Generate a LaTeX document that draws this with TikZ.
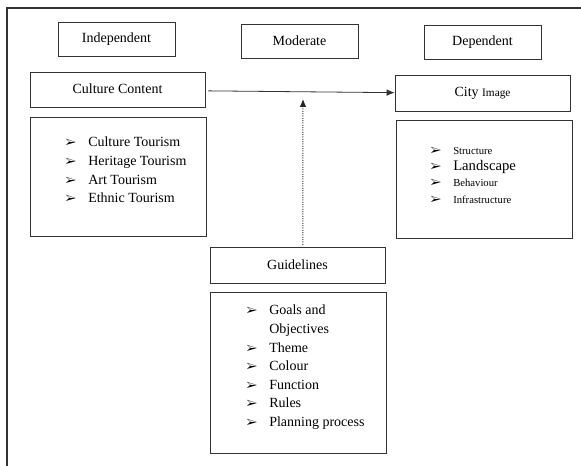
\documentclass[tikz,border=0pt]{standalone}
\usepackage{fontspec}
\setmainfont{Liberation Serif}
\usepackage{pifont}
\usetikzlibrary{arrows.meta}
\tikzstyle{box}=[draw=black!80,line width=0.6pt,rectangle,inner sep=0pt]
\tikzstyle{headbox}=[box,minimum width=87.75pt,minimum height=25.5pt]
\tikzstyle{titlebox}=[box,minimum width=131.25pt,minimum height=26.5pt]
\tikzstyle{listbox}=[box,minimum width=132pt]
\tikzstyle{list}=[anchor=north west,align=left,inner sep=0pt]
\newcommand{\itm}{\makebox[17.25pt][l]{\fontsize{9}{9}\selectfont\ding{226}}}

\begin{document}
\begin{tikzpicture}[x=0.75pt,y=-0.75pt,>={Latex[length=6pt,width=5pt]},font=\fontsize{10.5}{13.9}\selectfont]
	\useasboundingbox (0,0) rectangle (581,466);
	\draw[black!80,line width=0.9pt] (7,466) -- (7,8) -- (581,8);

	% column heads
	\draw node [headbox] at (116.5,39) (indep) {\raisebox{1.5pt}{Independent}};
	\draw node [headbox] at (299.5,41) (moder) {\raisebox{1pt}{Moderate}};
	\draw node [headbox] at (482.5,42.5) (dep) {\raisebox{1pt}{Dependent}};

	% independent side
	\draw node [titlebox] at (117.5,90) (cc) {\raisebox{2pt}{Culture Content}};
	\draw node [listbox,minimum height=89.25pt] at (118,176.5) (ccl) {};
	\draw node [list] at (65,137) (ccitems) {\itm Culture Tourism\\ \itm Heritage Tourism\\ \itm Art Tourism\\ \itm Ethnic Tourism};

	% dependent side
	\draw node [titlebox] at (482.5,93.5) (ci) {\raisebox{2pt}{City {\fontsize{8.5}{10}\selectfont Image}}};
	\draw node [listbox,minimum height=88.5pt] at (484,179) (cil) {};
	\draw node [list,font=\fontsize{8}{12.2}\selectfont] at (430,147) (ciitems) {\itm Structure\\ \itm{\fontsize{11}{12.2}\selectfont Landscape}\\ \itm Behaviour\\ \itm Infrastructure};

	% moderating side
	\draw node [titlebox] at (297.5,265.5) (gl) {\raisebox{1.5pt}{Guidelines}};
	\draw node [listbox,minimum height=120.75pt] at (298,372.5) (gll) {};
	\draw node [list] at (246,305) (glitems) {\itm Goals and\\ \makebox[17.25pt]{}Objectives\\ \itm Theme\\ \itm Colour\\ \itm Function\\ \itm Rules\\ \itm Planning process};

	\coordinate (tip) at (303,99);

	\path
	(cc) edge[->,draw=black!80,line width=0.6pt,shorten <=2.25pt] (ci)
	([xshift=4pt,yshift=2pt]gl.north) edge[->,draw=black!85,line width=0.75pt,densely dotted] (tip)
	;
\end{tikzpicture}
\end{document}
